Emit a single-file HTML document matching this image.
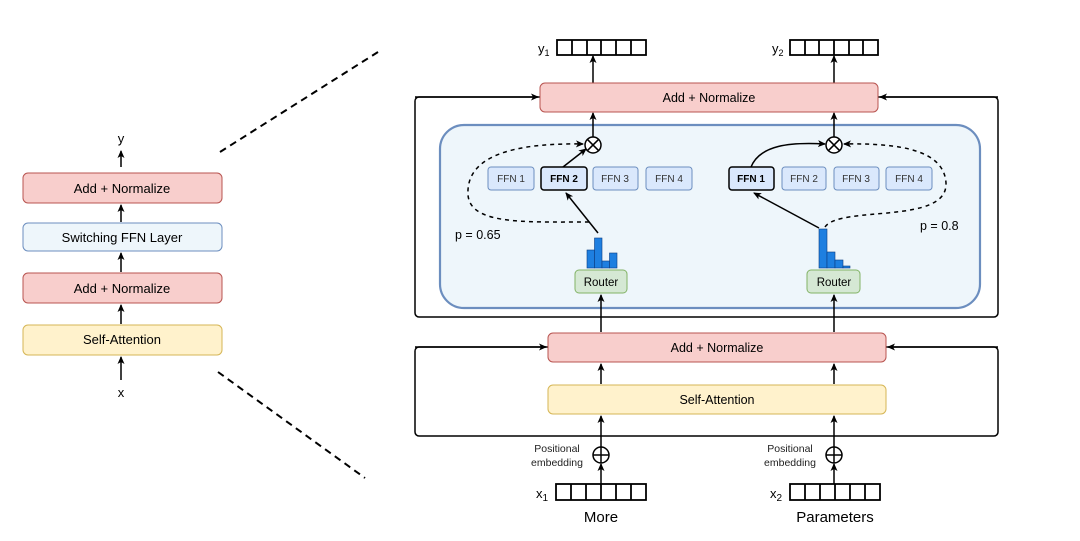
<!DOCTYPE html>
<html><head><meta charset="utf-8"><style>
html,body{margin:0;padding:0;background:#fff;}
svg{display:block;font-family:"Liberation Sans",sans-serif;}
</style></head><body>
<svg width="1080" height="541" viewBox="0 0 1080 541" xmlns="http://www.w3.org/2000/svg">
<defs>
<marker id="a" markerWidth="8" markerHeight="8" refX="7" refY="4" orient="auto" markerUnits="userSpaceOnUse">
<path d="M0,0.5 L8,4 L0,7.5 L2,4 Z" fill="#000"/></marker>
</defs>
<g stroke="#000" stroke-width="1.5" fill="none">
<line x1="121" y1="167" x2="121" y2="151" marker-end="url(#a)"/>
<line x1="121" y1="222" x2="121" y2="205" marker-end="url(#a)"/>
<line x1="121" y1="272" x2="121" y2="253" marker-end="url(#a)"/>
<line x1="121" y1="324" x2="121" y2="305" marker-end="url(#a)"/>
<line x1="121" y1="380" x2="121" y2="357" marker-end="url(#a)"/>
<line x1="220" y1="152" x2="378" y2="52" stroke-dasharray="7,5" stroke-width="2"/>
<line x1="218" y1="372" x2="365" y2="478" stroke-dasharray="7,5" stroke-width="2"/>
</g>
<g font-size="13" text-anchor="middle">
<rect x="23" y="173" width="199" height="30" rx="5" fill="#f8cecc" stroke="#b85450"/>
<text x="122" y="193">Add + Normalize</text>
<rect x="23" y="223" width="199" height="28" rx="5" fill="#eef6fb" stroke="#6c8ebf"/>
<text x="122" y="242">Switching FFN Layer</text>
<rect x="23" y="273" width="199" height="30" rx="5" fill="#f8cecc" stroke="#b85450"/>
<text x="122" y="293">Add + Normalize</text>
<rect x="23" y="325" width="199" height="30" rx="5" fill="#fff2cc" stroke="#d6b656"/>
<text x="122" y="344">Self-Attention</text>
<text x="121" y="143" font-size="13">y</text>
<text x="121" y="397" font-size="13">x</text>
</g>

<g stroke="#000" stroke-width="1.5" fill="none">
<rect x="415" y="97" width="583" height="220" rx="4"/>
<line x1="415" y1="97" x2="538" y2="97" marker-end="url(#a)"/>
<line x1="998" y1="97" x2="880" y2="97" marker-end="url(#a)"/>
<rect x="415" y="347" width="583" height="89" rx="4"/>
<line x1="415" y1="347" x2="546" y2="347" marker-end="url(#a)"/>
<line x1="998" y1="347" x2="888" y2="347" marker-end="url(#a)"/>
</g>
<rect x="440" y="125" width="540" height="183" rx="24" fill="#eef6fb" stroke="#6c8ebf" stroke-width="2.2"/>
<g stroke="#000" stroke-width="1.5" fill="none">
<line x1="601" y1="332" x2="601" y2="295" marker-end="url(#a)"/>
<line x1="834" y1="332" x2="834" y2="295" marker-end="url(#a)"/>
<line x1="601" y1="384" x2="601" y2="364" marker-end="url(#a)"/>
<line x1="834" y1="384" x2="834" y2="364" marker-end="url(#a)"/>
<line x1="601" y1="447" x2="601" y2="416" marker-end="url(#a)"/>
<line x1="834" y1="447" x2="834" y2="416" marker-end="url(#a)"/>
<line x1="601" y1="484" x2="601" y2="464" marker-end="url(#a)"/>
<line x1="834" y1="484" x2="834" y2="464" marker-end="url(#a)"/>
<line x1="593" y1="137" x2="593" y2="113" marker-end="url(#a)"/>
<line x1="834" y1="137" x2="834" y2="113" marker-end="url(#a)"/>
<line x1="593" y1="83" x2="593" y2="56" marker-end="url(#a)"/>
<line x1="834" y1="83" x2="834" y2="56" marker-end="url(#a)"/>
<line x1="598" y1="233" x2="566" y2="193" marker-end="url(#a)"/>
<line x1="563" y1="167" x2="586" y2="149" marker-end="url(#a)"/>
<line x1="819" y1="228" x2="754" y2="193" marker-end="url(#a)"/>
<path d="M751,167 C760,145 790,142 825,144" marker-end="url(#a)"/>
<path d="M589,222 C520,222 465,225 468,190 C470,150 530,143 583,144" stroke-dasharray="4,4" marker-end="url(#a)"/>
<path d="M825,227 C840,205 948,225 946,183 C944,150 900,143 844,144" stroke-dasharray="4,4" marker-end="url(#a)"/>
<circle cx="593" cy="145" r="8" fill="#fff"/><path d="M587.3,139.3 L598.7,150.7 M598.7,139.3 L587.3,150.7"/>
<circle cx="834" cy="145" r="8" fill="#fff"/><path d="M828.3,139.3 L839.7,150.7 M839.7,139.3 L828.3,150.7"/>
<circle cx="601" cy="455" r="8" fill="#fff"/><path d="M593,455 L609,455 M601,447 L601,463"/>
<circle cx="834" cy="455" r="8" fill="#fff"/><path d="M826,455 L842,455 M834,447 L834,463"/>
</g>
<g font-size="12.5" text-anchor="middle">
<rect x="540" y="83" width="338" height="29" rx="5" fill="#f8cecc" stroke="#b85450"/>
<text x="709" y="102">Add + Normalize</text>
<rect x="548" y="333" width="338" height="29" rx="5" fill="#f8cecc" stroke="#b85450"/>
<text x="717" y="352">Add + Normalize</text>
<rect x="548" y="385" width="338" height="29" rx="5" fill="#fff2cc" stroke="#d6b656"/>
<text x="717" y="404">Self-Attention</text>
</g>
<g font-size="10" text-anchor="middle">
<rect x="488" y="167" width="46" height="23" rx="3" fill="#dae8fc" stroke="#6c8ebf"/><text x="511" y="182" fill="#333">FFN 1</text>
<rect x="541" y="167" width="46" height="23" rx="3" fill="#dae8fc" stroke="#000" stroke-width="1.5"/><text x="564" y="182" font-weight="bold">FFN 2</text>
<rect x="593" y="167" width="45" height="23" rx="3" fill="#dae8fc" stroke="#6c8ebf"/><text x="615" y="182" fill="#333">FFN 3</text>
<rect x="646" y="167" width="46" height="23" rx="3" fill="#dae8fc" stroke="#6c8ebf"/><text x="669" y="182" fill="#333">FFN 4</text>
<rect x="729" y="167" width="45" height="23" rx="3" fill="#dae8fc" stroke="#000" stroke-width="1.5"/><text x="751" y="182" font-weight="bold">FFN 1</text>
<rect x="782" y="167" width="44" height="23" rx="3" fill="#dae8fc" stroke="#6c8ebf"/><text x="804" y="182" fill="#333">FFN 2</text>
<rect x="834" y="167" width="45" height="23" rx="3" fill="#dae8fc" stroke="#6c8ebf"/><text x="856" y="182" fill="#333">FFN 3</text>
<rect x="886" y="167" width="46" height="23" rx="3" fill="#dae8fc" stroke="#6c8ebf"/><text x="909" y="182" fill="#333">FFN 4</text>
</g>
<g fill="#1e7fe0" stroke="#0a3d80" stroke-width="0.6">
<rect x="587" y="250" width="7.5" height="18"/><rect x="594.5" y="238" width="7.5" height="30"/>
<rect x="602" y="261" width="7.5" height="7"/><rect x="609.5" y="253" width="7.5" height="15"/>
<rect x="819" y="229" width="8" height="39"/><rect x="827" y="252" width="8" height="16"/>
<rect x="835" y="260" width="8" height="8"/><rect x="843" y="266" width="7" height="2"/>
</g>
<g font-size="11.5" text-anchor="middle">
<rect x="575" y="270" width="52" height="23" rx="4" fill="#d5e8d4" stroke="#82b366"/><text x="601" y="286">Router</text>
<rect x="807" y="270" width="53" height="23" rx="4" fill="#d5e8d4" stroke="#82b366"/><text x="834" y="286">Router</text>
</g>
<g font-size="12.5">
<text x="455" y="239">p = 0.65</text>
<text x="920" y="230">p = 0.8</text>
</g>
<g fill="#fff" stroke="#000" stroke-width="1.8">
<rect x="557" y="40" width="89" height="15"/><rect x="790" y="40" width="88" height="15"/>
<rect x="556" y="484" width="90" height="16"/><rect x="790" y="484" width="90" height="16"/>
</g>
<g stroke="#000" stroke-width="1.8">
<path d="M572,40V55M587,40V55M601,40V55M616,40V55M631,40V55"/>
<path d="M805,40V55M819,40V55M834,40V55M849,40V55M863,40V55"/>
<path d="M571,484V500M586,484V500M601,484V500M616,484V500M631,484V500"/>
<path d="M805,484V500M820,484V500M835,484V500M850,484V500M865,484V500"/>
</g>
<g font-size="13">
<text x="538" y="53">y<tspan font-size="9" dy="3">1</tspan></text>
<text x="772" y="53">y<tspan font-size="9" dy="3">2</tspan></text>
<text x="536" y="498">x<tspan font-size="10" dy="3">1</tspan></text>
<text x="770" y="498">x<tspan font-size="10" dy="3">2</tspan></text>
</g>
<g font-size="10.5" text-anchor="middle" fill="#222">
<text x="557" y="452">Positional</text><text x="557" y="466">embedding</text>
<text x="790" y="452">Positional</text><text x="790" y="466">embedding</text>
</g>
<g font-size="15" text-anchor="middle">
<text x="601" y="522">More</text>
<text x="835" y="522">Parameters</text>
</g>
</svg>
</body></html>
